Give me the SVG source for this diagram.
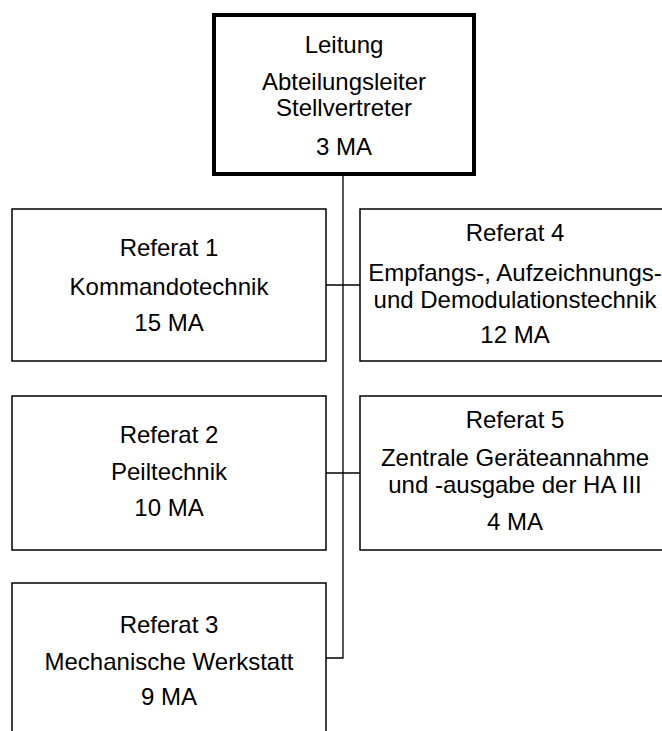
<svg xmlns="http://www.w3.org/2000/svg" width="662" height="731" viewBox="0 0 662 731">
  <style>
    .box { fill: #ffffff; stroke: #000000; stroke-width: 1.5; }
    .head { fill: #ffffff; stroke: #000000; stroke-width: 4; }
    .wire { fill: none; stroke: #000000; stroke-width: 1.3; }
    text { font-family: "Liberation Sans", Arial, sans-serif; font-size: 24px; fill: #000000; text-anchor: middle; }
  </style>
  <rect width="662" height="731" fill="#ffffff"/>

  <!-- connectors -->
  <g id="connectors">
    <path class="wire" d="M343 174 V658 H326"/>
    <path class="wire" d="M326 285 H360"/>
    <path class="wire" d="M326 473 H360"/>
  </g>

  <g id="leitung">
    <rect class="head" x="214" y="15" width="260" height="159"/>
    <text x="344" y="53">Leitung</text>
    <text x="344" y="90">Abteilungsleiter</text>
    <text x="344" y="116">Stellvertreter</text>
    <text x="344" y="155">3 MA</text>
  </g>

  <g id="referat1">
    <rect class="box" x="12" y="209" width="314" height="152"/>
    <text x="169" y="256">Referat 1</text>
    <text x="169" y="295">Kommandotechnik</text>
    <text x="169" y="331">15 MA</text>
  </g>

  <g id="referat4">
    <rect class="box" x="360" y="209" width="312" height="152"/>
    <text x="515" y="241">Referat 4</text>
    <text x="515" y="281">Empfangs-, Aufzeichnungs-</text>
    <text x="515" y="308">und Demodulationstechnik</text>
    <text x="515" y="343">12 MA</text>
  </g>

  <g id="referat2">
    <rect class="box" x="12" y="396" width="314" height="154"/>
    <text x="169" y="443">Referat 2</text>
    <text x="169" y="480">Peiltechnik</text>
    <text x="169" y="516">10 MA</text>
  </g>

  <g id="referat5">
    <rect class="box" x="360" y="396" width="312" height="154"/>
    <text x="515" y="428">Referat 5</text>
    <text x="515" y="466">Zentrale Geräteannahme</text>
    <text x="515" y="493">und -ausgabe der HA III</text>
    <text x="515" y="530">4 MA</text>
  </g>

  <g id="referat3">
    <rect class="box" x="12" y="583" width="314" height="160"/>
    <text x="169" y="633">Referat 3</text>
    <text x="169" y="670">Mechanische Werkstatt</text>
    <text x="169" y="705">9 MA</text>
  </g>
</svg>
